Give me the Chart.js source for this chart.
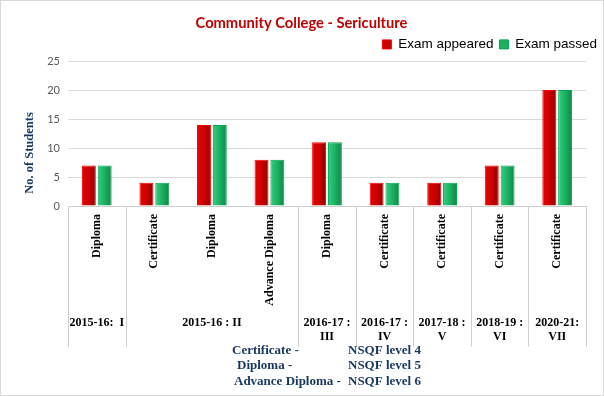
<!DOCTYPE html>
<html>
<head>
<meta charset="utf-8">
<script src="https://cdn.jsdelivr.net/npm/chart.js@4/dist/chart.umd.min.js"></script>
<style>
  html, body { margin: 0; padding: 0; background: #fff; }
  #wrap { width: 604px; height: 396px; position: relative; }
</style>
</head>
<body>
<div id="wrap"><canvas id="sericulture-chart" width="604" height="396"></canvas></div>
<script>
// chart data
const categories = ['Diploma', 'Certificate', 'Diploma', 'Advance Diploma', 'Diploma', 'Certificate', 'Certificate', 'Certificate', 'Certificate'];
const groupLabels = [['2015-16:  I'], ['2015-16 : II'], ['2016-17 :', 'III'], ['2016-17 :', 'IV'], ['2017-18 :', 'V'], ['2018-19 :', 'VI'], ['2020-21:', 'VII']];
const groupSpans = [1, 3, 1, 1, 1, 1, 1];
const examAppeared = [7, 4, 14, 8, 11, 4, 4, 7, 20];
const examPassed = [7, 4, 14, 8, 11, 4, 4, 7, 20];
const noteNames = ['Certificate -', 'Diploma -', 'Advance Diploma -'];
const noteLevels = ['NSQF level 4', 'NSQF level 5', 'NSQF level 6'];

const CAT_PCT = 0.55;
const NAVY = '#17375e';
const SERIF = 'bold 12px "Liberation Serif", "Times New Roman", serif';

// horizontal shading on each bar, like the office chart
function barFill(stops, solid) {
  return function (c) {
    if (c.type !== 'data') return solid;
    const xs = c.chart.scales.x;
    if (!xs || !xs.width) return solid;
    const slot = xs.width / categories.length * CAT_PCT / 2;
    const cx = xs.getPixelForValue(c.dataIndex);
    const left = c.datasetIndex === 0 ? cx - slot : cx;
    const g = c.chart.ctx.createLinearGradient(left, 0, left + slot, 0);
    stops.forEach(s => g.addColorStop(s[0], s[1]));
    return g;
  };
}

const extras = {
  id: 'extras',
  beforeDraw(chart) {
    const ctx = chart.ctx;
    ctx.save();
    ctx.fillStyle = '#fff';
    ctx.fillRect(0, 0, chart.width, chart.height);
    ctx.restore();
  },
  afterDraw(chart) {
    const ctx = chart.ctx;
    const area = chart.chartArea;
    const step = (area.right - area.left) / categories.length;
    ctx.save();

    // divider lines of the two-level axis
    ctx.strokeStyle = '#d0d0d0';
    ctx.lineWidth = 1;
    let pos = 0;
    const edges = [0];
    groupSpans.forEach(s => { pos += s; edges.push(pos); });
    edges.forEach(e => {
      const x = Math.round(area.left + e * step) + 0.5;
      ctx.beginPath();
      ctx.moveTo(x, area.bottom);
      ctx.lineTo(x, 347);
      ctx.stroke();
    });

    // inner level: rotated category names
    ctx.fillStyle = '#000';
    ctx.font = SERIF;
    categories.forEach((name, i) => {
      const cx = chart.scales.x.getPixelForValue(i);
      ctx.save();
      ctx.translate(cx, area.bottom + 8);
      ctx.rotate(-Math.PI / 2);
      ctx.textAlign = 'right';
      ctx.textBaseline = 'middle';
      ctx.fillText(name, 0, 0);
      ctx.restore();
    });

    // outer level: year groups
    ctx.textAlign = 'center';
    ctx.textBaseline = 'middle';
    let start = 0;
    groupLabels.forEach((lines, g) => {
      const cx = area.left + (start + groupSpans[g] / 2) * step;
      lines.forEach((t, k) => ctx.fillText(t, cx, 323 + k * 14));
      start += groupSpans[g];
    });

    // y axis title
    ctx.fillStyle = NAVY;
    ctx.font = 'bold 12.5px "Liberation Serif", "Times New Roman", serif';
    ctx.save();
    ctx.translate(29.5, 153);
    ctx.rotate(-Math.PI / 2);
    ctx.fillText('No. of Students', 0, 0);
    ctx.restore();

    // level notes below the chart
    ctx.font = 'bold 13px "Liberation Serif", "Times New Roman", serif';
    ctx.textAlign = 'left';
    const noteX = [232, 237, 234];
    const noteY = [351, 366, 382];
    noteNames.forEach((t, i) => {
      ctx.fillText(t, noteX[i], noteY[i]);
      ctx.fillText(noteLevels[i], 348, noteY[i]);
    });

    // outer frame
    ctx.strokeStyle = '#d9d9d9';
    ctx.strokeRect(0.5, 0.5, chart.width - 1, chart.height - 1);
    ctx.restore();
  }
};

const ctx = document.getElementById('sericulture-chart').getContext('2d');
new Chart(ctx, {
  type: 'bar',
  data: {
    labels: categories,
    datasets: [
      {
        label: 'Exam appeared',
        data: examAppeared,
        backgroundColor: barFill([[0, '#f00000'], [0.5, '#cc0000'], [1, '#880000']], '#c00000'),
        borderColor: '#ff0000',
        borderWidth: 1,
        categoryPercentage: CAT_PCT,
        barPercentage: 0.88
      },
      {
        label: 'Exam passed',
        data: examPassed,
        backgroundColor: barFill([[0, '#33d483'], [0.5, '#1cb062'], [1, '#0e8040']], '#1cb062'),
        borderColor: '#00a650',
        borderWidth: 1,
        categoryPercentage: CAT_PCT,
        barPercentage: 0.88
      }
    ]
  },
  options: {
    responsive: false,
    animation: false,
    layout: { padding: { top: 0, right: 1, bottom: 190, left: 0 } },
    scales: {
      x: {
        grid: { display: false },
        ticks: { display: false },
        border: { display: true, color: '#d0d0d0' },
        afterFit: s => { s.height = 0; }
      },
      y: {
        min: 0,
        max: 25,
        ticks: { stepSize: 5, padding: 8, color: '#595959', font: { family: 'Lato', size: 11 } },
        grid: { color: '#d9d9d9', drawTicks: false },
        border: { display: false },
        afterFit: s => { s.width = 68; }
      },
      yR: {
        position: 'right',
        grid: { display: false },
        ticks: { display: false },
        border: { display: false },
        afterFit: s => { s.width = 17; }
      }
    },
    plugins: {
      title: {
        display: true,
        text: 'Community College - Sericulture',
        color: '#c00000',
        font: { family: 'Lato', size: 14.7, weight: 'bold' },
        padding: { top: 14, bottom: 0 }
      },
      legend: {
        align: 'end',
        labels: {
          boxWidth: 9,
          boxHeight: 9,
          padding: 6,
          color: '#000',
          font: { family: '"Liberation Sans", Arial', size: 13.5 },
          generateLabels: chart => chart.data.datasets.map((d, i) => ({
            text: d.label,
            fillStyle: i === 0 ? '#c80000' : '#1cb062',
            strokeStyle: i === 0 ? '#ff0000' : '#00a650',
            lineWidth: 1,
            datasetIndex: i
          }))
        }
      },
      tooltip: { enabled: false }
    }
  },
  plugins: [extras]
});
</script>
</body>
</html>
